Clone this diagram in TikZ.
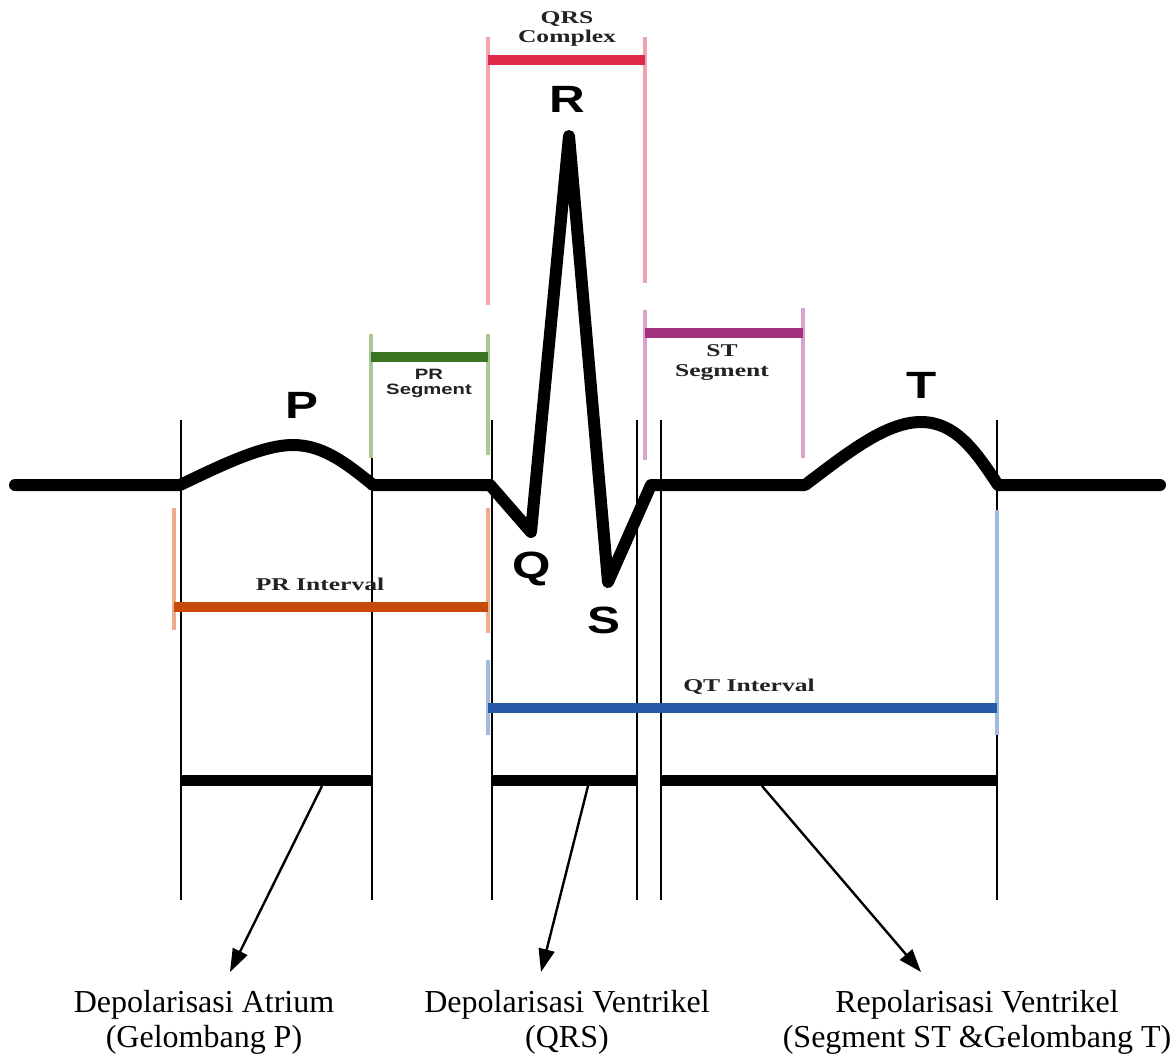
\documentclass[tikz,border=0pt]{standalone}
\usepackage{fontspec}
\usepackage{graphicx}
\setmainfont{Liberation Serif}
\newfontfamily\lsans{Liberation Sans}
\usetikzlibrary{arrows.meta}
\newcommand\wideA[1]{\scalebox{1.3}[1]{#1}}
\newcommand\wideB[1]{\scalebox{1.42}[1]{#1}}
\newcommand\wideC[1]{\scalebox{1.35}[1]{#1}}
\definecolor{qrsred}{HTML}{DC2A48}
\definecolor{qrsredl}{HTML}{F2A3B0}
\definecolor{prgreen}{HTML}{3B7420}
\definecolor{prgreenl}{HTML}{A9C994}
\definecolor{stmag}{HTML}{A2327F}
\definecolor{stmagl}{HTML}{DAA3CF}
\definecolor{prorange}{HTML}{C94B0C}
\definecolor{prorangel}{HTML}{EDAD8C}
\definecolor{qtblue}{HTML}{2659A6}
\definecolor{qtbluel}{HTML}{A0B9DF}
\definecolor{lbltxt}{HTML}{222222}
\begin{document}
\begin{tikzpicture}[x=1pt,y=-1pt,
  ecg/.style={line width=12pt, line join=round, line cap=round},
  guide/.style={line width=1.6pt},
  blackbar/.style={line width=11pt},
  cbar/.style={line width=10pt},
  tick/.style={line width=3.2pt},
  wavelbl/.style={font=\lsans\bfseries\fontsize{38}{40}\selectfont, inner sep=0pt, anchor=base},
  seglbl/.style={font=\bfseries\fontsize{18}{20}\selectfont, text=lbltxt, inner sep=0pt, align=center},
  sanslbl/.style={font=\lsans\bfseries\fontsize{15}{15}\selectfont, text=lbltxt, inner sep=0pt, align=center},
  desc/.style={font=\fontsize{32}{35}\selectfont, inner sep=0pt, align=center, anchor=north},
  pointer/.style={line width=2.4pt, -{Triangle[length=23pt,width=16pt]}}
]
\useasboundingbox (0,0) rectangle (1175,1057);
\fill[white] (0,0) rectangle (1175,1057);

% thin black guide lines
\foreach \gx in {181,372,492,637,661,997}
  \draw[guide] (\gx,420) -- (\gx,900);

% QRS complex marker
\draw[tick, qrsredl] (488,37) -- (488,305);
\draw[tick, qrsredl] (645,37) -- (645,283);
\draw[cbar, qrsred] (488,60) -- (645,60);
\node[seglbl] (qrslbl) at (567,29) {\wideB{QRS}\\[-1pt]\wideB{Complex}};

% PR segment marker
\draw[tick, prgreenl] (371,334) -- (371,458);
\draw[tick, prgreenl] (488,334) -- (488,455);
\draw[cbar, prgreen] (371,357) -- (488,357);
\node[sanslbl] (prseglbl) at (429,383) {\wideC{PR}\\\wideC{Segment}};

% ST segment marker
\draw[tick, stmagl] (645,310) -- (645,460);
\draw[tick, stmagl] (803,308) -- (803,458);
\draw[cbar, stmag] (645,333) -- (803,333);
\node[seglbl] (stseglbl) at (722,363) {\wideB{ST}\\\wideB{Segment}};

% PR interval marker
\draw[tick, prorangel] (174,508) -- (174,630);
\draw[tick, prorangel] (488,508) -- (488,633);
\draw[cbar, prorange] (174,607) -- (488,607);
\node[seglbl, anchor=base] (printlbl) at (320,590) {\wideB{PR Interval}};

% QT interval marker
\draw[tick, qtbluel] (488,660) -- (488,735);
\draw[tick, qtbluel] (997,510) -- (997,735);
\draw[cbar, qtblue] (488,708) -- (997,708);
\node[seglbl, anchor=base] (qtintlbl) at (749,691) {\wideB{QT Interval}};

% ECG trace
\draw[ecg] (15,485) -- (180,485)
  .. controls (220,466) and (262,445) .. (293,445)
  .. controls (322,445) and (345,462) .. (373,485)
  -- (490,485) -- (531,532) -- (569,136) -- (608,582) -- (651,485)
  -- (805,485)
  .. controls (845,455) and (885,422) .. (921,422)
  .. controls (955,422) and (975,450) .. (998,485)
  -- (1160,485);

% wave letters
\node[wavelbl] (Plbl) at (302,418) {\wideA{P}};
\node[wavelbl] (Rlbl) at (567,112) {\wideA{R}};
\node[wavelbl] (Qlbl) at (532,578) {\wideA{Q}};
\node[wavelbl] (Slbl) at (604,633) {\wideA{S}};
\node[wavelbl] (Tlbl) at (922,398) {\wideA{T}};

% black phase bars
\draw[blackbar] (181,780) -- (372,780);
\draw[blackbar] (492,780) -- (637,780);
\draw[blackbar] (661,780) -- (997,780);

% pointer start points and tips
\coordinate (a1) at (322,786);
\coordinate (a2) at (588,786);
\coordinate (a3) at (762,786);
\coordinate (t1) at (230,972);
\coordinate (t2) at (541,972);
\coordinate (t3) at (921,972);

% descriptions
\node[desc] (d1) at (204,990) {Depolarisasi Atrium\\(Gelombang P)};
\node[desc] (d2) at (567,990) {Depolarisasi Ventrikel\\(QRS)};
\node[desc] (d3) at (977,990) {Repolarisasi Ventrikel\\(Segment ST \&Gelombang T)};

\draw[pointer] (a1) -- (t1);
\draw[pointer] (a2) -- (t2);
\draw[pointer] (a3) -- (t3);
\end{tikzpicture}
\end{document}
